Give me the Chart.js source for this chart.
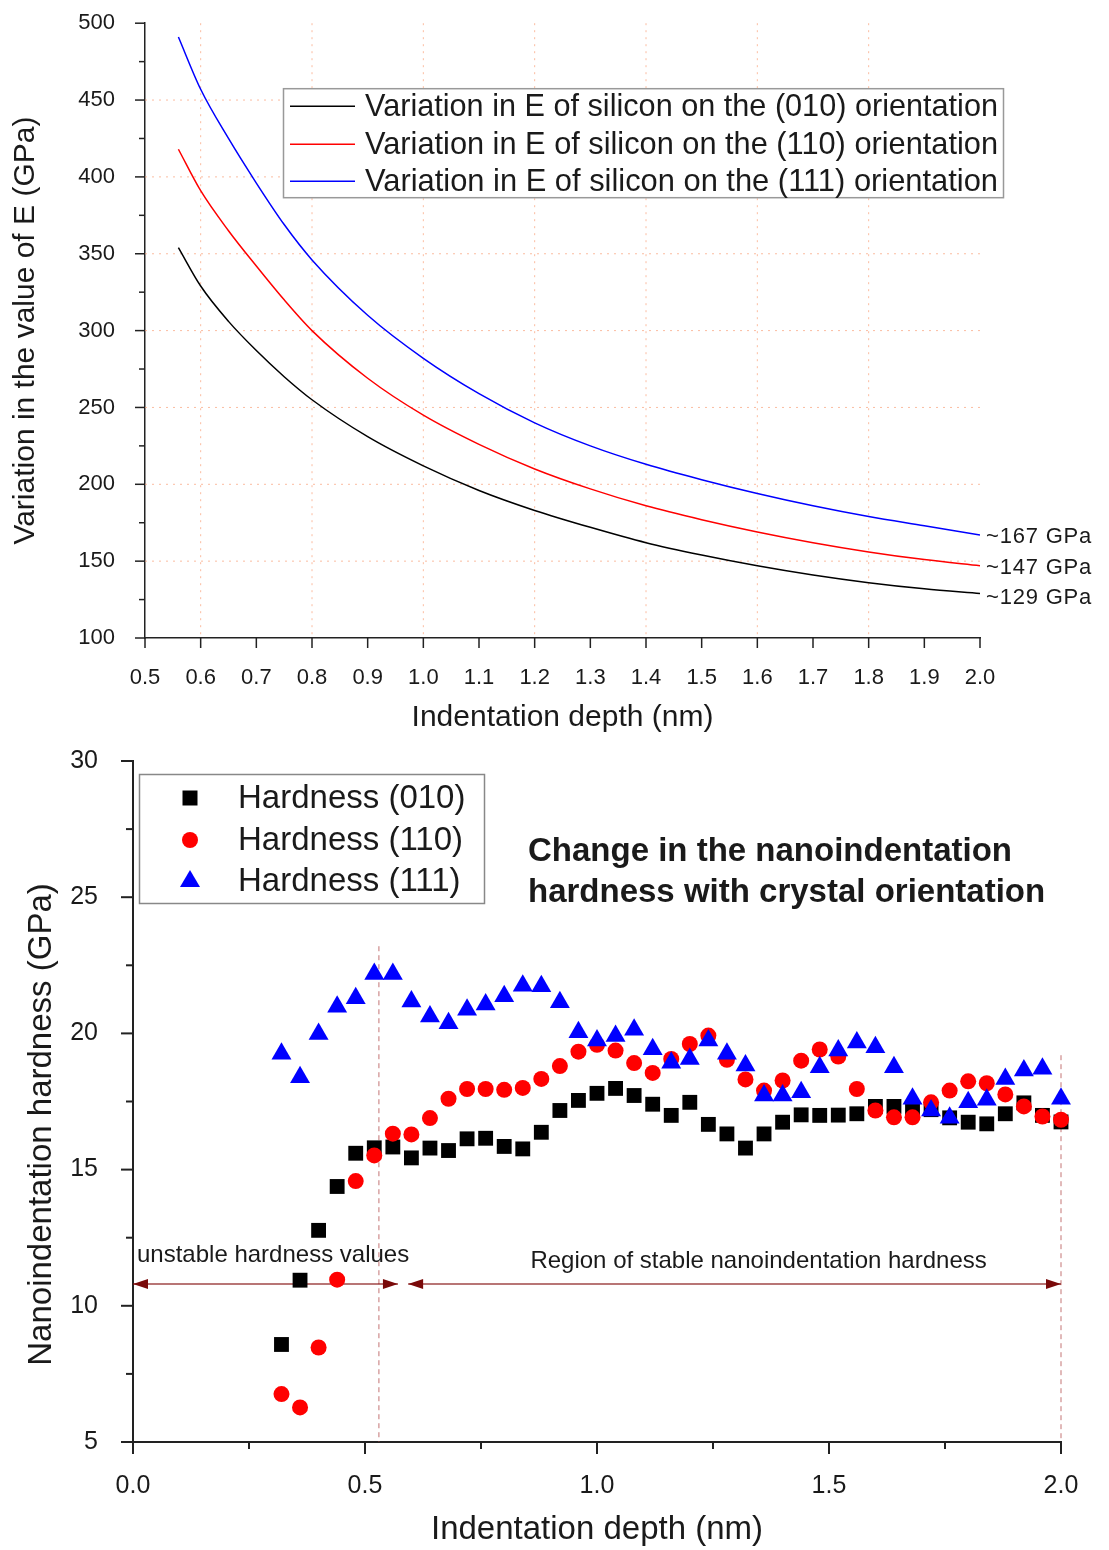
<!DOCTYPE html>
<html>
<head>
<meta charset="utf-8">
<script src="https://cdn.jsdelivr.net/npm/chart.js@4/dist/chart.umd.min.js"></script>
<style>
  body { margin: 0; background: #fff; overflow: hidden; }
  #wrap { position: relative; width: 1109px; height: 1550px; overflow: hidden; }
  canvas { position: absolute; left: 0; }
  #topChart { top: -12px; }
  #bottomChart { top: 719px; }
</style>
</head>
<body>
<div id="wrap">
  <canvas id="topChart" width="1109" height="757" style="width:1109px;height:757px"></canvas>
  <canvas id="bottomChart" width="1109" height="831" style="width:1109px;height:831px"></canvas>
</div>
<script>
// top chart: elastic modulus vs depth
const eDepth = [0.56, 0.6, 0.65, 0.7, 0.75, 0.8, 0.9, 1.0, 1.1, 1.2, 1.3, 1.4, 1.5, 1.6, 1.7, 1.8, 1.9, 2.0];
const e010 = [354, 329, 306, 287, 270, 255, 231, 212, 196, 183, 172, 162, 154, 147, 141, 136, 132, 129];
const e110 = [418, 391, 365, 342, 320, 300, 269, 245, 226, 210, 197, 186, 177, 169, 162, 156, 151, 147];
const e111 = [491, 457, 425, 396, 369, 346, 310, 282, 259, 240, 225, 213, 203, 194, 186, 179, 173, 167];
const eLabels = ['Variation in E of silicon on the (010) orientation',
                 'Variation in E of silicon on the (110) orientation',
                 'Variation in E of silicon on the (111) orientation'];
const eEndLabels = ['~129 GPa', '~147 GPa', '~167 GPa'];

// bottom chart: hardness vs depth
const hDepth = [0.32, 0.36, 0.40, 0.44, 0.48, 0.52, 0.56, 0.60, 0.64, 0.68, 0.72, 0.76, 0.80, 0.84, 0.88,
                0.92, 0.96, 1.00, 1.04, 1.08, 1.12, 1.16, 1.20, 1.24, 1.28, 1.32, 1.36, 1.40, 1.44, 1.48,
                1.52, 1.56, 1.60, 1.64, 1.68, 1.72, 1.76, 1.80, 1.84, 1.88, 1.92, 1.96, 2.00];
const h010 = [8.58, 10.94, 12.77, 14.38, 15.6, 15.8, 15.83, 15.43, 15.79, 15.7, 16.13, 16.15, 15.85, 15.76, 16.37,
              17.17, 17.54, 17.8, 17.98, 17.72, 17.4, 16.99, 17.47, 16.66, 16.31, 15.79, 16.31, 16.74, 17.01, 16.99,
              17.0, 17.05, 17.32, 17.32, 17.2, 17.2, 16.9, 16.74, 16.68, 17.05, 17.45, 16.99, 16.75];
const h110 = [6.76, 6.27, 8.47, 10.96, 14.58, 15.52, 16.32, 16.29, 16.89, 17.6, 17.96, 17.96, 17.93, 18.0, 18.33,
              18.8, 19.33, 19.58, 19.37, 18.91, 18.55, 19.06, 19.61, 19.92, 19.03, 18.31, 17.9, 18.27, 19.0, 19.41,
              19.15, 17.96, 17.17, 16.92, 16.92, 17.47, 17.9, 18.24, 18.17, 17.76, 17.32, 16.95, 16.83];
const h111 = [19.25, 18.39, 19.98, 20.98, 21.29, 22.18, 22.18, 21.17, 20.62, 20.37, 20.87, 21.06, 21.36, 21.75, 21.73,
              21.14, 20.04, 19.74, 19.9, 20.13, 19.42, 18.92, 19.06, 19.74, 19.25, 18.82, 17.72, 17.72, 17.84, 18.76,
              19.37, 19.67, 19.49, 18.76, 17.6, 17.17, 16.9, 17.47, 17.56, 18.33, 18.64, 18.7, 17.6];
const hLabels = ['Hardness (010)', 'Hardness (110)', 'Hardness (111)'];

const unstableEnd = 0.571;
const stableStart = 0.593;
const arrowLevel = 10.8;
const boundaries = [[0.53, 23.2], [2.0, 19.2]];

const FONT = '"Liberation Sans", Arial, sans-serif';
Chart.defaults.font.family = FONT;
Chart.defaults.color = '#1a1a1a';

function toXY(xs, ys) {
  return xs.map((x, i) => ({x: x, y: ys[i]}));
}

function drawTicks(chart, cfg) {
  const {ctx, chartArea: a, scales: {x, y}} = chart;
  const isMult = (v, s) => Math.abs(v / s - Math.round(v / s)) < 1e-6;
  ctx.save();
  ctx.strokeStyle = cfg.color;
  ctx.lineWidth = cfg.width;
  let n = Math.round((x.max - x.min) / cfg.xMinor);
  for (let i = 0; i <= n; i++) {
    const v = x.min + i * cfg.xMinor;
    const px = x.getPixelForValue(v);
    const len = isMult(v, cfg.xMajor) ? cfg.major : cfg.minor;
    ctx.beginPath(); ctx.moveTo(px, a.bottom); ctx.lineTo(px, a.bottom + len); ctx.stroke();
  }
  n = Math.round((y.max - y.min) / cfg.yMinor);
  for (let i = 0; i <= n; i++) {
    const v = y.min + i * cfg.yMinor;
    const py = y.getPixelForValue(v);
    const len = isMult(v, cfg.yMajor) ? cfg.major : cfg.minor;
    ctx.beginPath(); ctx.moveTo(a.left, py); ctx.lineTo(a.left - len, py); ctx.stroke();
  }
  ctx.restore();
}

const topDecor = {
  id: 'topDecor',
  beforeDatasetsDraw(chart) {
    const {ctx, chartArea: a, scales: {x, y}} = chart;
    ctx.save();
    ctx.strokeStyle = 'rgba(250,160,120,0.7)';
    ctx.lineWidth = 1;
    ctx.setLineDash([2, 5]);
    for (let i = 1; i <= 7; i++) {
      const px = x.getPixelForValue(0.4 + i * 0.2);
      ctx.beginPath(); ctx.moveTo(px, a.top); ctx.lineTo(px, a.bottom); ctx.stroke();
    }
    for (let v = 150; v <= 450; v += 50) {
      const py = y.getPixelForValue(v);
      ctx.beginPath(); ctx.moveTo(a.left, py); ctx.lineTo(a.right, py); ctx.stroke();
    }
    ctx.restore();
  },
  afterDraw(chart) {
    const {ctx, chartArea: a, scales: {x, y}} = chart;
    drawTicks(chart, {xMinor: 0.1, xMajor: 0.1, yMinor: 25, yMajor: 50, major: 10, minor: 6, width: 1.5, color: '#222'});

    // legend box (positioned from the top of the plot area)
    ctx.save();
    const lt = a.top + 65;
    ctx.fillStyle = '#fff';
    ctx.fillRect(283, lt, 720, 109);
    ctx.strokeStyle = '#999';
    ctx.lineWidth = 1.5;
    ctx.strokeRect(283.5, lt + 0.5, 720, 109);
    const rows = [18, 56, 93];
    chart.data.datasets.forEach((ds, i) => {
      ctx.strokeStyle = ds.borderColor;
      ctx.lineWidth = 1.5;
      ctx.beginPath(); ctx.moveTo(290, lt + rows[i]); ctx.lineTo(355, lt + rows[i]); ctx.stroke();
      ctx.fillStyle = '#1a1a1a';
      ctx.font = '32px ' + FONT;
      ctx.textBaseline = 'middle';
      ctx.fillText(ds.label, 365, lt + rows[i] + 1, 633);
    });

    // end value labels
    ctx.font = '22px ' + FONT;
    ctx.letterSpacing = '0.8px';
    const ends = [e010, e110, e111];
    ends.forEach((arr, i) => {
      const px = x.getPixelForValue(eDepth[eDepth.length - 1]);
      const py = y.getPixelForValue(arr[arr.length - 1]);
      ctx.fillText(eEndLabels[i], px + 6, py + 2 + (i === 0 ? 3 : 0));
    });
    ctx.restore();
  }
};

new Chart(document.getElementById('topChart'), {
  type: 'line',
  data: {
    datasets: [
      {label: eLabels[0], data: toXY(eDepth, e010), borderColor: '#000000'},
      {label: eLabels[1], data: toXY(eDepth, e110), borderColor: '#ff0000'},
      {label: eLabels[2], data: toXY(eDepth, e111), borderColor: '#0000ff'}
    ]
  },
  options: {
    responsive: false,
    animation: false,
    events: [],
    layout: {padding: {top: 10, right: 129, left: 0, bottom: 0}},
    elements: {
      point: {radius: 0},
      line: {borderWidth: 1.5, cubicInterpolationMode: 'monotone', fill: false}
    },
    plugins: {legend: {display: false}, tooltip: {enabled: false}},
    scales: {
      x: {
        type: 'linear', min: 0.5, max: 2.0,
        afterFit(scale) { scale.height = 107; },
        grid: {display: false},
        border: {color: '#222', width: 1.5},
        ticks: {stepSize: 0.1, padding: 19, font: {size: 22}, color: '#1a1a1a',
                maxRotation: 0, autoSkip: false, callback: v => v.toFixed(1)},
        title: {display: true, text: 'Indentation depth (nm)', font: {size: 30}, padding: {top: 0, bottom: 9}, color: '#1a1a1a'}
      },
      y: {
        type: 'linear', min: 100, max: 500,
        afterFit(scale) { scale.width = 145; },
        grid: {display: false},
        border: {color: '#222', width: 1.5},
        ticks: {stepSize: 50, padding: 22, font: {size: 22}, color: '#1a1a1a'},
        title: {display: true, text: 'Variation in the value of E (GPa)', font: {size: 30}, padding: {top: 8, bottom: 0}, color: '#1a1a1a'}
      }
    }
  },
  plugins: [topDecor]
});

function drawArrowHead(ctx, tipX, y, dir) {
  ctx.beginPath();
  ctx.moveTo(tipX, y);
  ctx.lineTo(tipX - dir * 15, y - 5);
  ctx.lineTo(tipX - dir * 15, y + 5);
  ctx.closePath();
  ctx.fill();
}

function drawMarker(ctx, style, cx, cy, color) {
  ctx.fillStyle = color;
  ctx.beginPath();
  if (style === 'rect') {
    ctx.rect(cx - 7.5, cy - 7.5, 15, 15);
  } else if (style === 'circle') {
    ctx.arc(cx, cy, 8, 0, Math.PI * 2);
  } else {
    ctx.moveTo(cx, cy - 11);
    ctx.lineTo(cx + 10, cy + 6);
    ctx.lineTo(cx - 10, cy + 6);
    ctx.closePath();
  }
  ctx.fill();
}

const bottomDecor = {
  id: 'bottomDecor',
  beforeDatasetsDraw(chart) {
    const {ctx, chartArea: a, scales: {x, y}} = chart;
    ctx.save();
    ctx.strokeStyle = 'rgba(180,80,80,0.8)';
    ctx.lineWidth = 1;
    ctx.setLineDash([5, 4]);
    boundaries.forEach(b => {
      const px = x.getPixelForValue(b[0]);
      ctx.beginPath(); ctx.moveTo(px, y.getPixelForValue(b[1])); ctx.lineTo(px, a.bottom); ctx.stroke();
    });
    ctx.setLineDash([]);
    const ay = y.getPixelForValue(arrowLevel);
    ctx.strokeStyle = 'rgba(130,10,10,0.75)';
    ctx.lineWidth = 1.5;
    const x0 = x.getPixelForValue(0), x1 = x.getPixelForValue(unstableEnd);
    const x2 = x.getPixelForValue(stableStart), x3 = x.getPixelForValue(2.0);
    ctx.beginPath(); ctx.moveTo(x0, ay); ctx.lineTo(x1, ay); ctx.stroke();
    ctx.beginPath(); ctx.moveTo(x2, ay); ctx.lineTo(x3, ay); ctx.stroke();
    ctx.fillStyle = '#7a0a0a';
    drawArrowHead(ctx, x0, ay, -1);
    drawArrowHead(ctx, x1, ay, 1);
    drawArrowHead(ctx, x2, ay, -1);
    drawArrowHead(ctx, x3, ay, 1);
    ctx.restore();
  },
  afterDraw(chart) {
    const {ctx, chartArea: a, scales: {x, y}} = chart;
    drawTicks(chart, {xMinor: 0.25, xMajor: 0.5, yMinor: 2.5, yMajor: 5, major: 12, minor: 7, width: 2, color: '#222'});
    ctx.save();

    // annotations
    const ay = y.getPixelForValue(arrowLevel);
    ctx.fillStyle = '#1a1a1a';
    ctx.font = '24px ' + FONT;
    ctx.textBaseline = 'middle';
    ctx.textAlign = 'left';
    ctx.fillText('unstable hardness values', x.getPixelForValue(0) + 4, ay - 29);
    ctx.textAlign = 'center';
    ctx.fillText('Region of stable nanoindentation hardness', (x.getPixelForValue(stableStart) + x.getPixelForValue(2.0)) / 2 + 24, ay - 23);

    // bold title
    ctx.textAlign = 'left';
    ctx.font = 'bold 33px ' + FONT;
    ctx.fillText('Change in the nanoindentation', 528, a.top + 91);
    ctx.fillText('hardness with crystal orientation', 528, a.top + 132);

    // y axis title
    ctx.save();
    ctx.translate(42, (a.top + a.bottom) / 2 + 23);
    ctx.rotate(-Math.PI / 2);
    ctx.textAlign = 'center';
    ctx.font = '33px ' + FONT;
    ctx.fillText('Nanoindentation hardness (GPa)', 0, 0);
    ctx.restore();

    // legend
    ctx.fillStyle = '#fff';
    ctx.fillRect(139, a.top + 13, 345, 129);
    ctx.strokeStyle = '#888';
    ctx.lineWidth = 1.5;
    ctx.strokeRect(139.5, a.top + 13.5, 345, 129);
    const rows = [37, 79, 120];
    chart.data.datasets.forEach((ds, i) => {
      drawMarker(ctx, ds.pointStyle, 190, a.top + rows[i], ds.backgroundColor);
      ctx.fillStyle = '#1a1a1a';
      ctx.font = '33px ' + FONT;
      ctx.textAlign = 'left';
      ctx.fillText(ds.label, 238, a.top + rows[i] + 1);
    });
    ctx.restore();
  }
};

new Chart(document.getElementById('bottomChart'), {
  type: 'scatter',
  data: {
    datasets: [
      {label: hLabels[0], data: toXY(hDepth, h010), pointStyle: 'rect', pointRadius: 10.5,
       backgroundColor: '#000000', borderColor: '#000000', order: 3},
      {label: hLabels[1], data: toXY(hDepth, h110), pointStyle: 'circle', pointRadius: 8,
       backgroundColor: '#ff0000', borderColor: '#ff0000', order: 2},
      {label: hLabels[2], data: toXY(hDepth, h111), pointStyle: 'triangle', pointRadius: 11.5,
       backgroundColor: '#0000ff', borderColor: '#0000ff', order: 1}
    ]
  },
  options: {
    responsive: false,
    animation: false,
    events: [],
    layout: {padding: {top: 9, right: 48, left: 0, bottom: 0}},
    elements: {point: {borderWidth: 0}},
    datasets: {scatter: {clip: false}},
    plugins: {legend: {display: false}, tooltip: {enabled: false}},
    scales: {
      x: {
        type: 'linear', min: 0, max: 2.0,
        afterFit(scale) { scale.height = 108; },
        grid: {display: false},
        border: {color: '#222', width: 2},
        ticks: {stepSize: 0.5, padding: 21, font: {size: 25}, color: '#1a1a1a',
                maxRotation: 0, callback: v => v.toFixed(1)},
        title: {display: true, text: 'Indentation depth (nm)', font: {size: 33}, padding: {top: 0, bottom: 0}, color: '#1a1a1a'}
      },
      y: {
        type: 'linear', min: 5, max: 30,
        afterFit(scale) { scale.width = 133; },
        grid: {display: false},
        border: {color: '#222', width: 2},
        ticks: {stepSize: 5, padding: 27, font: {size: 25}, color: '#1a1a1a'}
      }
    }
  },
  plugins: [bottomDecor]
});
</script>
</body>
</html>
